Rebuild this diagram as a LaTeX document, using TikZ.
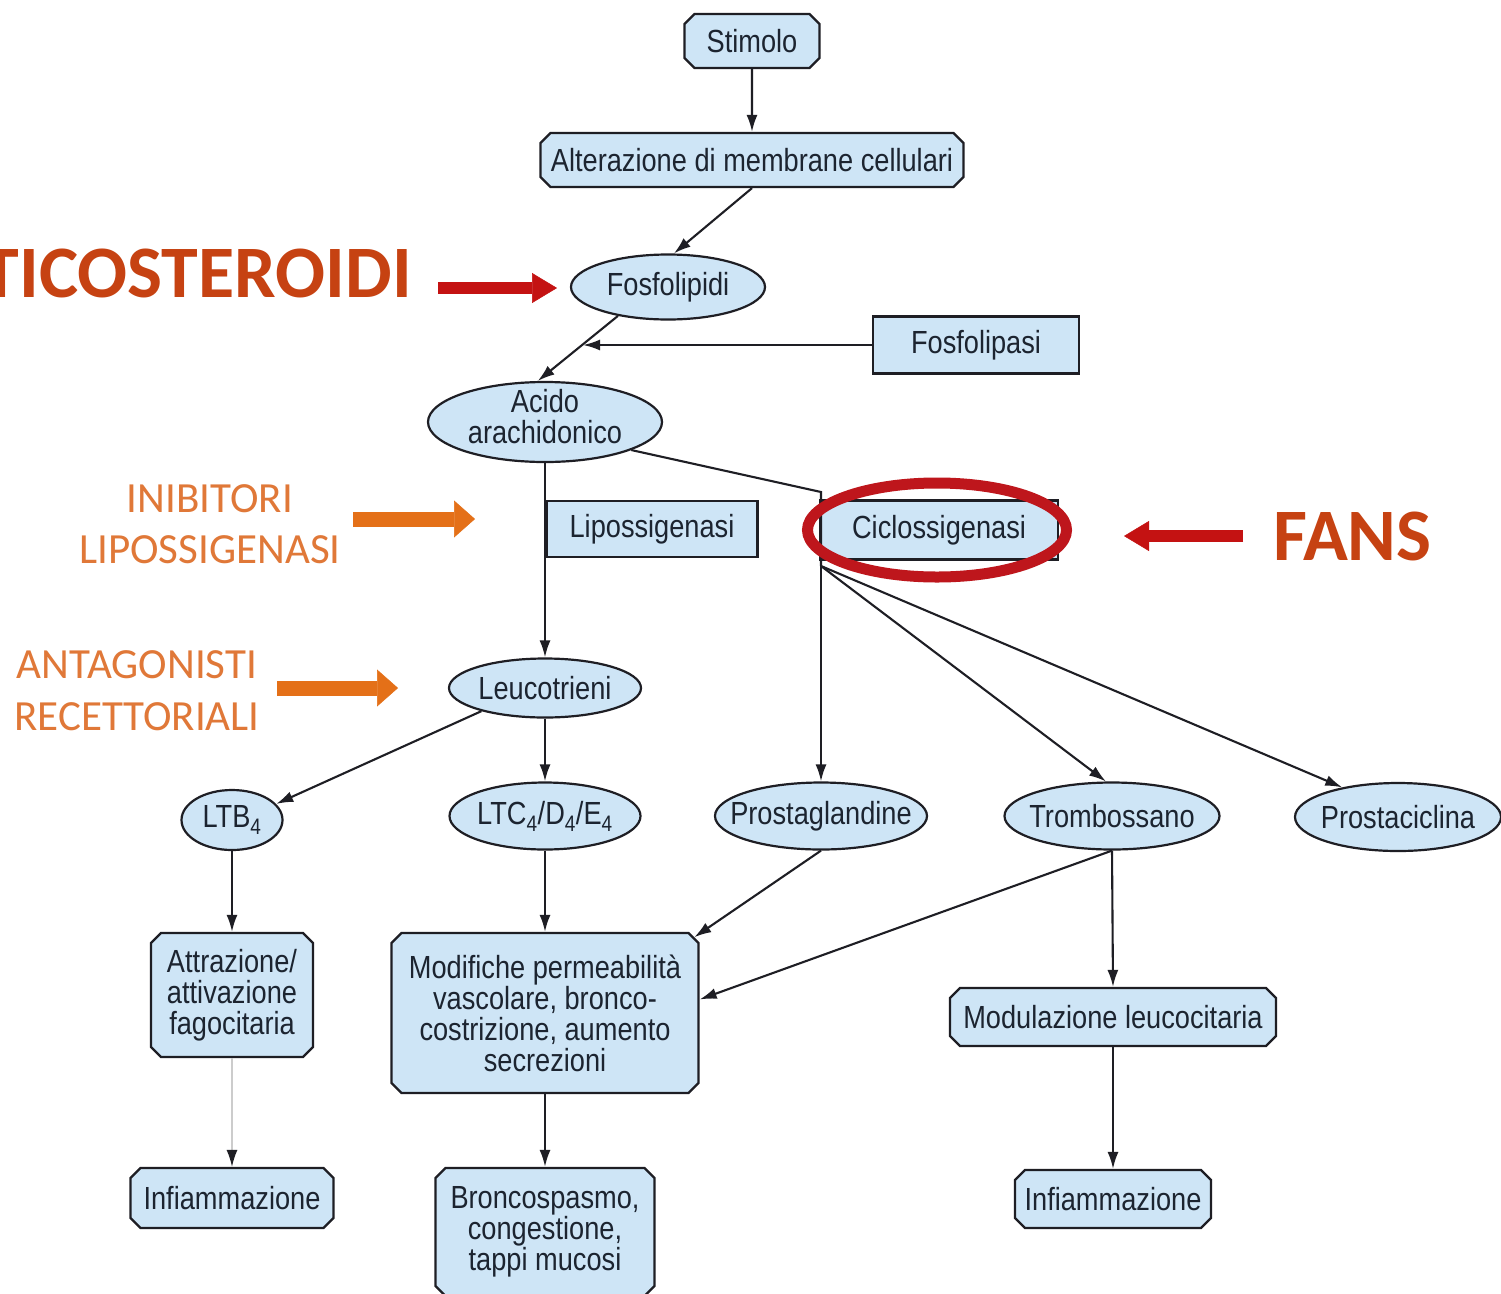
\documentclass[tikz,border=0pt]{standalone}
\usepackage{fontspec}
\newfontfamily\diagfont[FakeStretch=0.85]{Liberation Sans}
\newfontfamily\carlitofont{Carlito}
\usetikzlibrary{shapes.geometric,shapes.misc,arrows.meta}
\definecolor{boxC}{RGB}{206,229,246}
\definecolor{lineC}{RGB}{30,30,36}
\definecolor{txtC}{RGB}{28,36,48}
\definecolor{corrC}{RGB}{198,66,18}
\definecolor{orangeT}{RGB}{224,120,56}
\definecolor{orangeA}{RGB}{228,112,24}
\definecolor{redA}{RGB}{196,18,18}
\definecolor{ringC}{RGB}{190,22,28}
\begin{document}
\begin{tikzpicture}[x=1pt,y=-1pt,
  dtext/.style={font=\diagfont\fontsize{32}{31}\selectfont, text=txtC},
  cbox/.style={chamfered rectangle, chamfered rectangle xsep=5pt, chamfered rectangle ysep=5pt,
    draw=lineC, line width=2.2pt, fill=boxC, inner sep=0pt, align=center, dtext},
  rbox/.style={rectangle, draw=lineC, line width=2.2pt, fill=boxC, inner sep=0pt, align=center, dtext},
  ell/.style={ellipse, draw=lineC, line width=2.2pt, fill=boxC, inner sep=0pt},
  every label/.style={dtext, align=center, inner sep=0pt},
  conn/.style={draw=lineC, line width=2.1pt, -{Latex[length=17pt,width=11pt]}},
  plain/.style={draw=lineC, line width=2.1pt},
  bigred/.style={draw=redA, line width=12pt, -{Triangle[length=25pt,width=30pt,line width=0.5pt]}},
  bigorange/.style={draw=orangeA, line width=15pt, -{Triangle[length=21pt,width=37pt,line width=0.5pt]}},
  redtext/.style={font=\carlitofont\bfseries\fontsize{74}{84}\selectfont, text=corrC, inner sep=0pt},
  orangetext/.style={font=\carlitofont\fontsize{43}{51}\selectfont, text=orangeT, inner sep=0pt}
]
\useasboundingbox (0,0) rectangle (1501,1293);
\clip (0,0) rectangle (1501,1293);
\fill[white] (0,0) rectangle (1501,1293);

% nodes
\node[cbox, minimum width=135pt, minimum height=54pt] (stimolo) at (752,41) {Stimolo};
\node[cbox, minimum width=423pt, minimum height=54pt] (alterazione) at (752,160) {Alterazione di membrane cellulari};
\node[ell, minimum width=194pt, minimum height=65pt, label={center:Fosfolipidi}] (fosfolipidi) at (668,287) {};
\node[rbox, minimum width=206pt, minimum height=57pt] (fosfolipasi) at (976,345) {Fosfolipasi};
\node[ell, minimum width=234pt, minimum height=80pt, label={[yshift=5pt]center:{Acido\\arachidonico}}] (acido) at (545,422) {};
\node[rbox, minimum width=211pt, minimum height=56pt] (lipossigenasi) at (652,529) {Lipossigenasi};
\node[rbox, minimum width=238pt, minimum height=59pt] (ciclossigenasi) at (939,530) {Ciclossigenasi};
\node[ell, minimum width=192pt, minimum height=59pt, label={center:Leucotrieni}] (leucotrieni) at (545,688) {};
\node[ell, minimum width=101pt, minimum height=60pt, label={center:{LTB\textsubscript{4}}}] (ltb) at (232,820) {};
\node[ell, minimum width=191pt, minimum height=67pt, label={center:{LTC\textsubscript{4}/D\textsubscript{4}/E\textsubscript{4}}}] (ltc) at (545,816) {};
\node[ell, minimum width=212pt, minimum height=67pt, label={center:Prostaglandine}] (prostaglandine) at (821,816) {};
\node[ell, minimum width=215pt, minimum height=67pt, label={center:Trombossano}] (trombossano) at (1112,816) {};
\node[ell, minimum width=206pt, minimum height=68pt, label={center:Prostaciclina}] (prostaciclina) at (1398,817) {};
\node[cbox, minimum width=162pt, minimum height=124pt] (attrazione) at (232,995) {Attrazione/\\attivazione\\fagocitaria};
\node[cbox, minimum width=307pt, minimum height=160pt] (modifiche) at (545,1013) {Modifiche permeabilità\\vascolare, bronco-\\costrizione, aumento\\secrezioni};
\node[cbox, minimum width=326pt, minimum height=58pt] (modulazione) at (1113,1017) {Modulazione leucocitaria};
\node[cbox, minimum width=203pt, minimum height=60pt] (infl) at (232,1198) {Infiammazione};
\node[cbox, minimum width=219pt, minimum height=128pt] (bronco) at (545,1232) {Broncospasmo,\\congestione,\\tappi mucosi};
\node[cbox, minimum width=196pt, minimum height=58pt] (infr) at (1113,1199) {Infiammazione};

% connectors
\coordinate (fj) at (583,345);
\coordinate (cox) at (821,492);
\coordinate (cob) at (821,566);
\draw[conn] (stimolo) -- (alterazione);
\draw[conn] (alterazione.south) -- (fosfolipidi.80);
\draw[conn] (fosfolipidi.-150) -- (acido.100);
\draw[conn] (fosfolipasi.west) -- (fj);
\draw[plain] (acido.-18) -- (cox) -- (cob);
\draw[conn] (cob) -- (prostaglandine.north);
\draw[conn] (cob) -- (trombossano.100);
\draw[conn] (cob) -- (prostaciclina.152);
\draw[conn] (acido.south) -- (leucotrieni.north);
\draw[conn] (leucotrieni.-160) -- (ltb.20);
\draw[conn] (leucotrieni.south) -- (ltc.north);
\draw[conn] (ltb.south) -- (attrazione.north);
\draw[conn] (ltc.south) -- (modifiche.north);
\draw[conn] (prostaglandine.south) -- (modifiche.north east);
\draw[conn] (trombossano.south) -- (modifiche.5);
\draw[conn] (trombossano.south) -- (modulazione.north);
\draw[draw=gray!40, line width=1.6pt, -{Latex[length=17pt,width=11pt,color=lineC]}] (attrazione.south) -- (infl.north);
\draw[conn] (modifiche.south) -- (bronco.north);
\draw[conn] (modulazione.south) -- (infr.north);

% red ring
\node[ellipse, draw=ringC, line width=11pt, minimum width=259pt, minimum height=94pt] (ring) at (937,530) {};

% drug labels
\node[redtext, anchor=base east] (cortico) at (412,297) {TICOSTEROIDI};
\coordinate (ca1) at (438,288);
\coordinate (ca2) at (557,288);
\draw[bigred] (ca1) -- (ca2);

\node[redtext, anchor=base west] (fans) at (1273,560) {FANS};
\coordinate (fa1) at (1243,536);
\coordinate (fa2) at (1124,536);
\draw[bigred] (fa1) -- (fa2);

\node[orangetext, anchor=base] (inib1) at (210,512) {INIBITORI};
\node[orangetext, anchor=base] (inib2) at (210,563) {LIPOSSIGENASI};
\coordinate (ia1) at (353,519);
\coordinate (ia2) at (475,519);
\draw[bigorange] (ia1) -- (ia2);

\node[orangetext, anchor=base] (ant1) at (137,678) {ANTAGONISTI};
\node[orangetext, anchor=base] (ant2) at (137,730) {RECETTORIALI};
\coordinate (aa1) at (277,688);
\coordinate (aa2) at (398,688);
\draw[bigorange] (aa1) -- (aa2);
\end{tikzpicture}
\end{document}
